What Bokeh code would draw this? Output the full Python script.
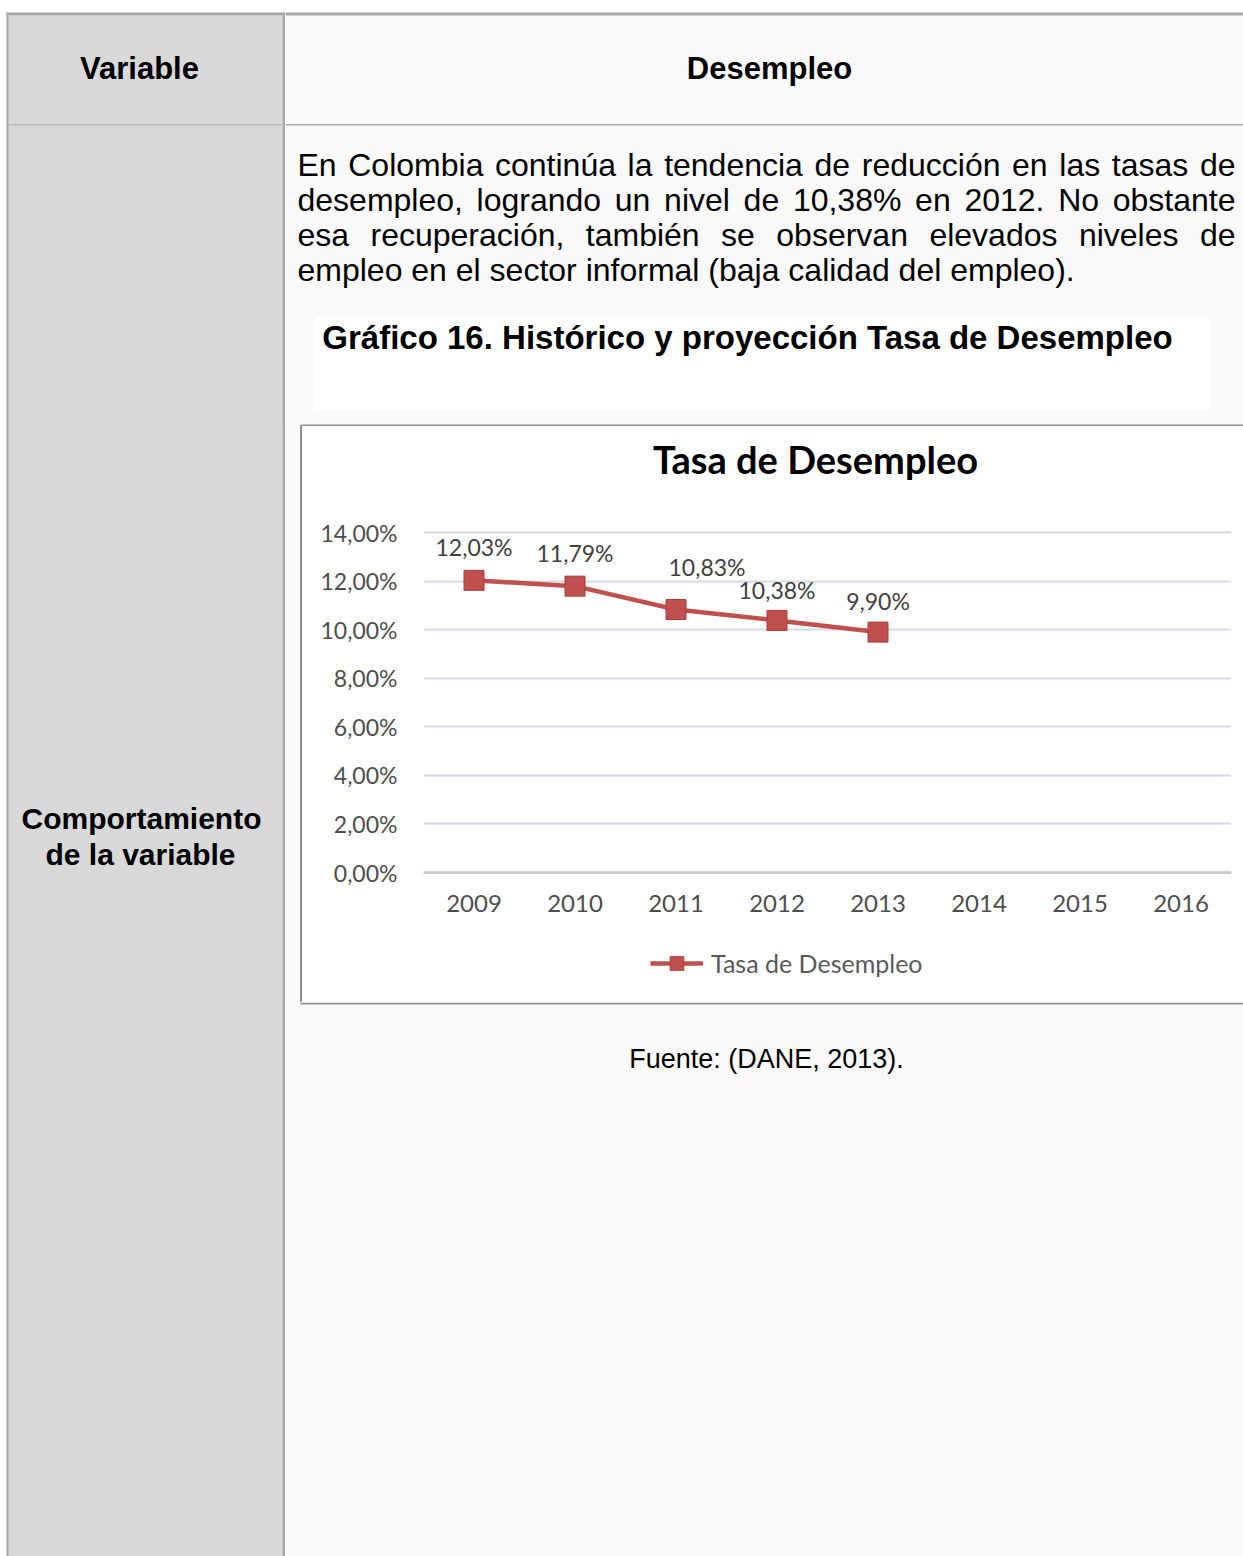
from bokeh.plotting import figure
from bokeh.models import (Range1d, FactorRange, FixedTicker, Label, Legend, LegendItem,
                          ColumnDataSource, Span, Div)
from bokeh.layouts import row, column
from bokeh.embed import file_html
from bokeh.resources import INLINE
from bokeh.core.properties import value

# ---------------- data ----------------
years = ["2009", "2010", "2011", "2012", "2013", "2014", "2015", "2016"]
hist_years = ["2009", "2010", "2011", "2012", "2013"]
tasa = [12.03, 11.79, 10.83, 10.38, 9.90]
tasa_labels = ["12,03%", "11,79%", "10,83%", "10,38%", "9,90%"]
y_ticks = [0, 2, 4, 6, 8, 10, 12, 14]
y_tick_labels = ["0,00%", "2,00%", "4,00%", "6,00%", "8,00%", "10,00%", "12,00%", "14,00%"]
chart_title = "Tasa de Desempleo"
series_name = "Tasa de Desempleo"
header_left = "Variable"
header_right = "Desempleo"
row_label = ["Comportamiento", "de la variable"]
para_lines = [
    "En Colombia continúa la tendencia de reducción en las tasas de",
    "desempleo, logrando un nivel de 10,38% en 2012. No obstante",
    "esa recuperación, también se observan elevados niveles de",
    "empleo en el sector informal (baja calidad del empleo).",
]
caption = "Gráfico 16. Histórico y proyección Tasa de Desempleo"
source_note = "Fuente: (DANE, 2013)."

# ---------------- styles ----------------
BORDER = "#a6a6a6"
LEFT_BG = "#d9d9d9"
RIGHT_BG = "#f9f9f9"
CHART_BORDER = "#8f8f8f"
RED = "#c0504d"
SANS = "Liberation Sans"
CHART_FONT = "Lato"
lbl_dx = [0, 0, 31, 0, 0]
lbl_dy = [-33, -33, -42, -30, -31]

# Arial/Helvetica advance widths (1/1000 em) for justification
W = {' ': 278, ',': 278, '.': 278, '%': 889, '(': 333, ')': 333,
     'C': 722, 'E': 667, 'N': 722,
     'a': 556, 'b': 556, 'c': 500, 'd': 556, 'e': 556, 'f': 278, 'g': 556, 'h': 556,
     'i': 222, 'j': 222, 'k': 500, 'l': 222, 'm': 833, 'n': 556, 'o': 556, 'p': 556,
     'q': 556, 'r': 333, 's': 500, 't': 278, 'u': 556, 'v': 500, 'w': 722, 'x': 500,
     'y': 500, 'z': 500, 'á': 556, 'é': 556, 'í': 278, 'ó': 556, 'ú': 556}
for dch in "0123456789":
    W[dch] = 556


def tw(s, size):
    return sum(W.get(c, 556) for c in s) * size / 1000.0


def page_fig(x0, x1, y0, y1, bg):
    p = figure(width=x1 - x0, height=y1 - y0,
               x_range=Range1d(x0, x1), y_range=Range1d(y1, y0),
               output_backend="svg", toolbar_location=None, min_border=0,
               x_axis_type=None, y_axis_type=None)
    p.outline_line_color = None
    p.background_fill_color = bg
    p.border_fill_color = bg
    p.xgrid.visible = False
    p.ygrid.visible = False
    return p


def box(p, l, r, t, b, color):
    p.quad(left=[l], right=[r], top=[t], bottom=[b], fill_color=color, line_color=None)


# ---------------- left column ----------------
LW = 285
left = page_fig(0, LW, 0, 1556, "white")
box(left, 7, 282, 15, 1556, LEFT_BG)
box(left, 6, LW, 12, 15, BORDER)
box(left, 6, 8, 12, 1556, BORDER)
box(left, 282, LW, 12, 1556, BORDER)
box(left, 8, 282, 123.5, 125, "#b9b9b9")
left.text(x=[139], y=[68], text=[header_left], text_font=value(SANS), text_font_style="bold",
          text_font_size="31px", text_align="center", text_baseline="middle", text_color="black")
left.text(x=[141, 140], y=[818, 854], text=row_label, text_font=value(SANS), text_font_style="bold",
          text_font_size="30px", text_align="center", text_baseline="middle", text_color="black")

# ---------------- right column top ----------------
RT_H = 426
rtop = page_fig(LW, 1243, 0, RT_H, RIGHT_BG)
box(rtop, LW, 1243, 0, 12, "white")
box(rtop, LW, 1243, 12, 15, BORDER)
box(rtop, LW, 1243, 123.5, 125, BORDER)
box(rtop, 314, 1209, 316, 410, "white")
box(rtop, 300, 1243, 424, 426, CHART_BORDER)
rtop.text(x=[769], y=[68], text=[header_right], text_font=value(SANS), text_font_style="bold",
          text_font_size="31px", text_align="center", text_baseline="middle", text_color="black")

FS = 32
x_left, x_right = 297, 1235
base0, lead = 164, 35
wx, wy, wt = [], [], []
for i, line in enumerate(para_lines):
    words = line.split(" ")
    widths = [tw(w, FS) for w in words]
    if i < len(para_lines) - 1:
        gap = (x_right - x_left - sum(widths)) / (len(words) - 1)
    else:
        gap = tw(" ", FS)
    x = x_left
    for w, wd in zip(words, widths):
        wx.append(x)
        wy.append(base0 + i * lead)
        wt.append(w)
        x += wd + gap
rtop.text(x=wx, y=wy, text=wt, text_font=value(SANS), text_font_size=f"{FS}px",
          text_align="left", text_baseline="alphabetic", text_color="black")
rtop.text(x=[747], y=[337], text=[caption], text_font=value(SANS), text_font_style="bold",
          text_font_size="33px", text_align="center", text_baseline="middle", text_color="black")

# ---------------- spacer left of chart (plain blocks, no text) ----------------
MID_TOP, MID_BOT = 426, 1002
MID_H = MID_BOT - MID_TOP
gap_div = Div(text="", width=15, height=MID_H, margin=0,
              styles={"background-color": RIGHT_BG})
line_div = Div(text="", width=2, height=MID_H, margin=0,
               styles={"background-color": CHART_BORDER})

# ---------------- chart ----------------
# plot region (pixels on the page) where 0..14 % is drawn
frame_l, frame_r = 423, 1231
zero_px, top_px = 872, 532
px_per_unit = (zero_px - top_px) / 14.0
px_per_cat = (frame_r - frame_l) / len(years)
y_lo = -(MID_BOT - zero_px) / px_per_unit
y_hi = 14 + (top_px - MID_TOP) / px_per_unit

CW = 1243 - 302
p = figure(x_range=FactorRange(*years), y_range=Range1d(y_lo, y_hi),
           width=CW, height=MID_H, output_backend="svg", toolbar_location=None,
           min_border_left=frame_l - 302, min_border_right=1243 - frame_r,
           min_border_top=0, min_border_bottom=0)
p.outline_line_color = None
p.background_fill_color = "white"
p.border_fill_color = "white"
p.xgrid.visible = False
p.ygrid.grid_line_color = "#d5dae4"
p.ygrid.grid_line_width = 2
p.yaxis.ticker = FixedTicker(ticks=y_ticks)
p.yaxis.major_label_overrides = {t: s for t, s in zip(y_ticks, y_tick_labels)}
p.xaxis.fixed_location = 0
for ax in (p.xaxis[0], p.yaxis[0]):
    ax.axis_line_color = None
    ax.major_tick_line_color = None
    ax.minor_tick_line_color = None
    ax.major_tick_out = 0
    ax.major_tick_in = 0
    ax.major_label_text_font = CHART_FONT
    ax.major_label_text_color = "#4d4d4d"
p.yaxis.major_label_standoff = 26
p.yaxis.major_label_text_font_size = "23px"
p.xaxis.major_label_standoff = 22
p.xaxis.major_label_text_font_size = "24px"
p.add_layout(Span(location=0, dimension="width", line_color="#c6c6c6", line_width=2.5))

src = ColumnDataSource(dict(x=hist_years, y=tasa, label=tasa_labels, dx=lbl_dx, dy=lbl_dy))
r_line = p.line("x", "y", source=src, line_color=RED, line_width=4.5)
r_mark = p.scatter("x", "y", source=src, marker="square", size=20, fill_color=RED,
                   line_color="#a33f3c", line_width=1)
p.text("x", "y", text="label", x_offset="dx", y_offset="dy", source=src,
       text_align="center", text_baseline="middle", text_font=value(CHART_FONT),
       text_font_size="23px", text_color="#404040")

p.add_layout(Label(x=(815 - frame_l) / px_per_cat, y=14 + (top_px - 458) / px_per_unit,
                   text=chart_title, text_font=CHART_FONT, text_font_style="bold",
                   text_font_size="38px", text_align="center", text_baseline="middle",
                   text_color="black"))

legend = Legend(items=[LegendItem(label=series_name, renderers=[r_line, r_mark])],
                location=(650 - frame_l, MID_BOT - 980), orientation="horizontal",
                background_fill_alpha=0, border_line_color=None, padding=0, margin=0,
                spacing=0, glyph_width=53, glyph_height=34, label_standoff=8,
                label_text_font=CHART_FONT, label_text_font_size="25px",
                label_text_color="#595959", label_text_baseline="middle")
p.add_layout(legend, "center")

# ---------------- right column bottom ----------------
rbot = page_fig(LW, 1243, MID_BOT, 1556, RIGHT_BG)
box(rbot, 300, 1243, MID_BOT, MID_BOT + 2, CHART_BORDER)
rbot.text(x=[766], y=[1058], text=[source_note], text_font=value(SANS), text_font_size="27px",
          text_align="center", text_baseline="middle", text_color="black")

layout = row(left, column(rtop, row(gap_div, line_div, p, spacing=0), rbot, spacing=0), spacing=0)

with open("out.html", "w") as f:
    f.write(file_html(layout, INLINE))
